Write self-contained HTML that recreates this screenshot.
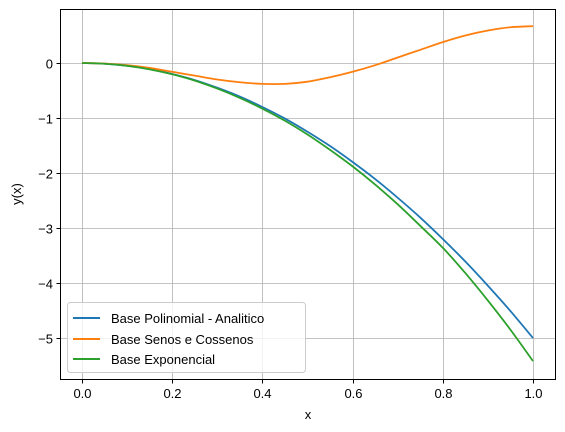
<!DOCTYPE html>
<html><head><meta charset="utf-8"><style>
body{margin:0;background:#fff;}
svg{display:block;font-family:"Liberation Sans","DejaVu Sans",sans-serif;}
</style></head><body>
<svg id="chart" width="565" height="432" viewBox="0 0 565 432">
<g id="grid"></g>
<g id="series"></g>
<rect x="60.5" y="9.5" width="495" height="370" fill="none" stroke="#000" stroke-width="1"/>
<g id="ticks"></g>
<text x="308" y="419" text-anchor="middle" font-size="13">x</text>
<text transform="translate(21,194) rotate(-90)" text-anchor="middle" font-size="13">y(x)</text>
<g>
<rect x="67.5" y="302.5" width="238" height="70" rx="3" fill="#fff" fill-opacity="0.8" stroke="#ccc"/>
<g><line x1="73" x2="100" y1="318" y2="318" stroke="#1f77b4" stroke-width="2"/><text x="111" y="323" font-size="13">Base Polinomial - Analitico</text></g>
<g><line x1="73" x2="100" y1="339" y2="339" stroke="#ff7f0e" stroke-width="2"/><text x="111" y="344" font-size="13">Base Senos e Cossenos</text></g>
<g><line x1="73" x2="100" y1="359" y2="359" stroke="#2ca02c" stroke-width="2"/><text x="111" y="364" font-size="13">Base Exponencial</text></g>
</g>
</svg>
<script>
const xs=[0,0.05,0.1,0.15,0.2,0.25,0.3,0.35,0.4,0.45,0.5,0.55,0.6,0.65,0.7,0.75,0.8,0.85,0.9,0.95,1.0];
const polinomial=[0,-0.0125,-0.05,-0.11,-0.2,-0.31,-0.45,-0.61,-0.8,-1.01,-1.25,-1.51,-1.8,-2.11,-2.45,-2.81,-3.2,-3.61,-4.05,-4.51,-5.0];
const senos=[0,-0.01,-0.04,-0.09,-0.16,-0.23,-0.3,-0.35,-0.38,-0.38,-0.34,-0.26,-0.16,-0.04,0.1,0.24,0.38,0.5,0.59,0.65,0.67];
const exponencial=[0,-0.013,-0.051,-0.115,-0.205,-0.32,-0.465,-0.635,-0.83,-1.05,-1.3,-1.58,-1.88,-2.21,-2.57,-2.96,-3.36,-3.82,-4.32,-4.85,-5.42];
const xTicks=[0,0.2,0.4,0.6,0.8,1.0];
const yTicks=[0,-1,-2,-3,-4,-5];
const sx=v=>82+v*451;
const sy=v=>63-v*55;
const NS="http://www.w3.org/2000/svg";
const mk=(t,a,p)=>{const e=document.createElementNS(NS,t);for(const k in a)e.setAttribute(k,a[k]);p.appendChild(e);return e;};
const grid=document.getElementById('grid'),ticks=document.getElementById('ticks'),ser=document.getElementById('series');
xTicks.forEach(t=>{const x=Math.round(sx(t))+0.5;
 const g=mk('line',{x1:x,x2:x,y1:9.5,y2:379.5,stroke:'#b0b0b0','stroke-width':0.8},grid);
 
 mk('line',{x1:x,x2:x,y1:379.5,y2:383.5,stroke:'#000'},ticks);
 const l=mk('text',{x:x,y:398,'text-anchor':'middle','font-size':13},ticks);l.textContent=t.toFixed(1);
 });
yTicks.forEach(t=>{const y=Math.round(sy(t))+0.5;
 const g=mk('line',{x1:60.5,x2:555.5,y1:y,y2:y,stroke:'#b0b0b0','stroke-width':0.8},grid);
 
 mk('line',{x1:56.5,x2:60.5,y1:y,y2:y,stroke:'#000'},ticks);
 const l=mk('text',{x:53,y:y+5,'text-anchor':'end','font-size':13},ticks);l.textContent=t<0?'\u2212'+(-t):String(t);
 });
function path(ys){const p=xs.map((x,i)=>[sx(x),sy(ys[i])]);let d='M'+p[0][0]+','+p[0][1];
 for(let i=0;i<p.length-1;i++){const p0=p[Math.max(i-1,0)],p1=p[i],p2=p[i+1],p3=p[Math.min(i+2,p.length-1)];
  d+=' C'+(p1[0]+(p2[0]-p0[0])/6)+','+(p1[1]+(p2[1]-p0[1])/6)+' '+(p2[0]-(p3[0]-p1[0])/6)+','+(p2[1]-(p3[1]-p1[1])/6)+' '+p2[0]+','+p2[1];}
 return d;}
[[polinomial,'#1f77b4','series-polinomial'],[senos,'#ff7f0e','series-senos-cossenos'],[exponencial,'#2ca02c','series-exponencial']].forEach(s=>{
 const e=mk('path',{d:path(s[0]),fill:'none',stroke:s[1],'stroke-width':1.8},ser);
 
 });
</script>
</body></html>
